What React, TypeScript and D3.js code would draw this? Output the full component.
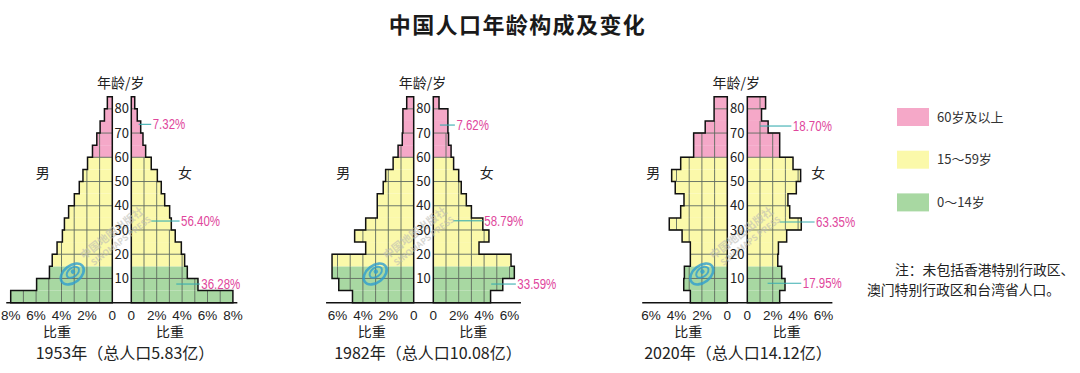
import React from 'react'
import * as d3 from 'd3'

// age groups, 5-year bands
const ageGroups = ['0-4', '5-9', '10-14', '15-19', '20-24', '25-29', '30-34', '35-39', '40-44',
  '45-49', '50-54', '55-59', '60-64', '65-69', '70-74', '75-79', '80-84']

// share of total population (%)
const male1953 = [8.0, 5.96, 4.95, 4.73, 4.35, 3.93, 3.77, 3.44, 2.99, 2.6, 2.31, 1.95, 1.56, 1.22, 0.96, 0.62, 0.39]
const female1953 = [8.0, 5.25, 4.41, 4.2, 3.94, 3.46, 3.15, 3.02, 2.63, 2.36, 2.05, 1.57, 1.13, 0.92, 0.74, 0.47, 0.27]
const male1982 = [4.82, 5.9, 6.43, 6.43, 3.78, 4.65, 3.78, 2.87, 2.87, 2.4, 2.21, 1.62, 1.23, 0.9, 0.85, 0.85, 0.55]
const female1982 = [4.51, 5.47, 6.38, 6.12, 3.6, 4.38, 3.9, 3.0, 2.6, 2.2, 2.0, 1.6, 1.4, 1.2, 1.15, 1.15, 0.45]
const male2020 = [2.91, 3.43, 3.38, 2.91, 2.91, 3.56, 4.57, 3.67, 3.41, 4.1, 4.38, 3.67, 2.65, 2.65, 1.74, 1.04, 1.04]
const female2020 = [2.55, 2.97, 2.71, 2.4, 2.45, 3.1, 4.25, 3.34, 3.2, 3.86, 4.2, 3.6, 2.55, 2.55, 1.64, 1.12, 1.44]

// callouts: label, age it points at, leader start/end in %
const notes1953 = [
  { text: '7.32%', age: 73.6, from: 0.58, to: 1.57 },
  { text: '56.40%', age: 33.7, from: 1.57, to: 3.8 },
  { text: '36.28%', age: 7.7, from: 3.54, to: 5.39 }
]
const notes1982 = [
  { text: '7.62%', age: 73.3, from: 0.52, to: 1.7 },
  { text: '58.79%', age: 33.8, from: 1.56, to: 3.9 },
  { text: '33.59%', age: 7.7, from: 4.56, to: 6.5 }
]
const notes2020 = [
  { text: '18.70%', age: 72.9, from: 1.0, to: 3.47 },
  { text: '63.35%', age: 33.3, from: 2.55, to: 5.3 },
  { text: '17.95%', age: 8, from: 1.6, to: 4.25 }
]

const ageTicks = [10, 20, 30, 40, 50, 60, 70, 80]
const legendItems = [
  { label: '60岁及以上', color: '#f5a8c8' },
  { label: '15～59岁', color: '#fbf9aa' },
  { label: '0～14岁', color: '#a8d8a2' }
]

const charts = [
  { year: '1953', total: '5.83', male: male1953, female: female1953, notes: notes1953,
    axisL: 112.3, axisR: 131.3, maxTick: 8, baseExt: 8.35, sexAt: [5.48, 4.23], weightAt: [4.35, 3.05], captionX: 125, wm: 40 },
  { year: '1982', total: '10.08', male: male1982, female: female1982, notes: notes1982,
    axisL: 413.7, axisR: 433.3, maxTick: 6, baseExt: 6.9, sexAt: [5.54, 4.2], weightAt: [3.3, 3.15], captionX: 428, wm: 38.5 },
  { year: '2020', total: '14.12', male: male2020, female: female2020, notes: notes2020,
    axisL: 727.3, axisR: 747.3, maxTick: 6, baseExt: 6.7, sexAt: [5.83, 5.59], weightAt: [3.07, 3.1], captionX: 738, wm: 25.5 }
]

const FONT = '"Noto Sans CJK SC", "Noto Sans", sans-serif'
const LATIN = '"Liberation Sans", Arial, sans-serif'
const PX_PER_PCT = 12.7
const GRID = '#5e6a5e'
const CALLOUT = '#e0469c'
const LEADER = '#3aaeb0'

const yAge = d3.scaleLinear().domain([0, 85]).range([302.7, 96.7])
const rowH = yAge(0) - yAge(5)

function bandColor (start) {
  if (start >= 60) return legendItems[0].color
  if (start >= 15) return legendItems[1].color
  return legendItems[2].color
}

function Side ({ values, axis, dir, notes }) {
  const x = d3.scaleLinear().domain([0, 1]).range([axis, axis + dir * PX_PER_PCT])
  const starts = ageGroups.map(g => parseInt(g, 10))

  // staircase outline
  const pts = [[0, 0]]
  values.forEach((v, i) => {
    pts.push([v, starts[i]])
    pts.push([v, starts[i] + 5])
  })
  pts.push([0, 85])
  const outline = d3.line().x(d => x(d[0])).y(d => yAge(d[1]))(pts) + 'Z'

  return (
    <g>
      {values.map((v, i) => (
        <rect key={'b' + i} x={Math.min(x(0), x(v))} y={yAge(starts[i] + 5)}
          width={Math.abs(x(v) - x(0))} height={rowH} fill={bandColor(starts[i])} />
      ))}
      {values.map((v, i) => d3.range(1, Math.ceil(v)).filter(k => k < v - 0.15).map(k => (
        <line key={'v' + i + '-' + k} x1={x(k)} x2={x(k)} y1={yAge(starts[i])} y2={yAge(starts[i] + 5)}
          stroke={GRID} strokeWidth={0.9} />
      )))}
      {ageTicks.map(a => {
        const idx = a / 5
        const w = Math.max(values[idx - 1], values[idx])
        return <line key={'h' + a} x1={x(0)} x2={x(w)} y1={yAge(a)} y2={yAge(a)} stroke={GRID} strokeWidth={0.9} />
      })}
      <path d={outline} fill='none' stroke='#111' strokeWidth={1.5} strokeLinejoin='miter' />
      {notes && notes.map(n => (
        <g key={n.text}>
          <line x1={x(n.from)} x2={x(n.to)} y1={yAge(n.age)} y2={yAge(n.age)} stroke={LEADER} strokeWidth={1.1} />
          <text x={x(n.to) + 1.5} y={yAge(n.age) + 5} fontSize={14} fontFamily={LATIN} fill={CALLOUT}
            textLength={n.text.length * 6.5} lengthAdjust='spacingAndGlyphs'>{n.text}</text>
        </g>
      ))}
    </g>
  )
}

function Watermark ({ cx, cy }) {
  return (
    <g transform={`translate(${cx},${cy})`} opacity={0.8}>
      <g transform='rotate(-38)'>
        <ellipse cx={0} cy={0} rx={13} ry={8.5} fill='none' stroke='#2f9fd0' strokeWidth={2.6} />
        <ellipse cx={1.5} cy={-1} rx={7} ry={4.5} fill='none' stroke='#2f9fd0' strokeWidth={2} />
        <circle cx={2} cy={-1.5} r={2.2} fill='#2f9fd0' />
        <text x={18} y={-4} fontSize={11} fontFamily={FONT} fontWeight={700} fill='#bdbdb5' opacity={0.75}>中国地图出版社</text>
        <text x={22} y={7} fontSize={8.5} fontFamily={FONT} fontWeight={700} fill='#bdbdb5' opacity={0.75}>SINOMAPS PRESS</text>
      </g>
    </g>
  )
}

function Pyramid ({ c }) {
  const xl = d3.scaleLinear().domain([0, 1]).range([c.axisL, c.axisL - PX_PER_PCT])
  const xr = d3.scaleLinear().domain([0, 1]).range([c.axisR, c.axisR + PX_PER_PCT])
  const mid = (c.axisL + c.axisR) / 2
  const ticks = d3.range(0, c.maxTick + 1, 2)
  const base = yAge(0)
  return (
    <g fontFamily={FONT}>
      <Side values={c.male} axis={c.axisL} dir={-1} />
      <Side values={c.female} axis={c.axisR} dir={1} notes={c.notes} />
      <Watermark cx={c.axisL - c.wm} cy={274} />
      <line x1={xl(c.baseExt)} x2={xr(c.baseExt)} y1={base} y2={base} stroke='#111' strokeWidth={1.6} />
      {ageTicks.map(a => (
        <text key={a} x={mid} y={yAge(a)} dy='0.35em' textAnchor='middle' fontSize={13} fill='#222'>{a}</text>
      ))}
      <text x={mid - 1} y={88} textAnchor='middle' fontSize={14} fill='#222'>年龄/岁</text>
      {ticks.map(t => (
        <g key={t} fontFamily={LATIN} fontSize={13.5} fill='#222'>
          <text x={xl(t)} y={320} textAnchor='middle'>{t === 0 ? '0' : t + '%'}</text>
          <text x={xr(t)} y={320} textAnchor='middle'>{t === 0 ? '0' : t + '%'}</text>
        </g>
      ))}
      <text x={xl(c.weightAt[0])} y={337} textAnchor='middle' fontSize={14} fill='#222'>比重</text>
      <text x={xr(c.weightAt[1])} y={337} textAnchor='middle' fontSize={14} fill='#222'>比重</text>
      <text x={xl(c.sexAt[0])} y={178} textAnchor='middle' fontSize={14} fill='#222'>男</text>
      <text x={xr(c.sexAt[1])} y={178} textAnchor='middle' fontSize={14} fill='#222'>女</text>
      <text x={c.captionX} y={359} textAnchor='middle' fontSize={16} fill='#222'>{c.year}年（总人口{c.total}亿）</text>
    </g>
  )
}

export default function App () {
  return (
    <svg width={1080} height={373} style={{ position: 'absolute', left: 0, top: 0, background: '#fff' }}>
      <rect width={1080} height={373} fill='#fff' />
      <text x={517.5} y={33} textAnchor='middle' fontFamily={FONT} fontSize={22} fontWeight={700}
        letterSpacing={1.4} fill='#1a1a1a'>中国人口年龄构成及变化</text>
      {charts.map(c => <Pyramid key={c.year} c={c} />)}
      <g fontFamily={FONT}>
        {legendItems.map((d, i) => (
          <g key={d.label} transform={`translate(897,${108 + i * 42.7})`}>
            <rect width={32} height={18} fill={d.color} />
            <text x={40} y={9} dy='0.35em' fontSize={13} fill='#333'>{d.label}</text>
          </g>
        ))}
        <text x={895} y={275} fontSize={13.8} fill='#222'>注：未包括香港特别行政区、</text>
        <text x={867} y={294.5} fontSize={13.8} fill='#222'>澳门特别行政区和台湾省人口。</text>
      </g>
    </svg>
  )
}
